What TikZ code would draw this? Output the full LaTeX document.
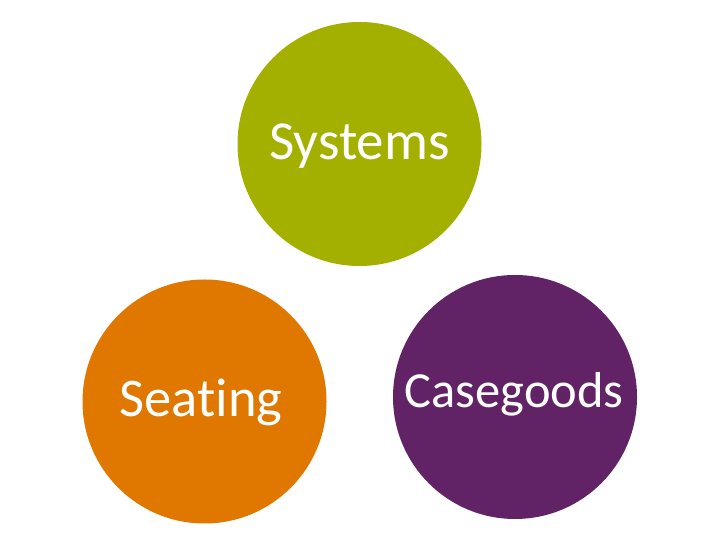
\documentclass[tikz,border=0pt]{standalone}
\usepackage{fontspec}
\setmainfont{Carlito}[Ligatures=NoCommon]
\usepackage{tikz}

\definecolor{sysgreen}{HTML}{A3B000}
\definecolor{seatorange}{HTML}{E07800}
\definecolor{casepurple}{HTML}{612366}

\tikzset{
    bubble/.style={circle, minimum size=244pt, inner sep=0pt},
    bubbletext/.style={text=white, anchor=base, inner sep=0pt}
}

\begin{document}
\begin{tikzpicture}[x=1pt, y=1pt]
    \useasboundingbox (0, 0) rectangle (720, 540);

    % top: Systems
    \node[bubble, fill=sysgreen] (sys) at (359.5, 396) {};
    \node[bubbletext, font=\fontsize{55}{64}\selectfont] (systxt) at ([yshift=-16pt]sys.center) {Systems};

    % bottom left: Seating
    \node[bubble, fill=seatorange] (seat) at (204.5, 138.5) {};
    \node[bubbletext, font=\fontsize{54.5}{64}\selectfont] (seattxt) at ([xshift=-3.5pt, yshift=-15.5pt]seat.center) {Seating};

    % bottom right: Casegoods
    \node[bubble, fill=casepurple] (case) at (515, 143) {};
    \node[bubbletext, font=\fontsize{50.5}{60}\selectfont] (casetxt) at ([xshift=-1pt, yshift=-11pt]case.center) {Casegoods};
\end{tikzpicture}
\end{document}
